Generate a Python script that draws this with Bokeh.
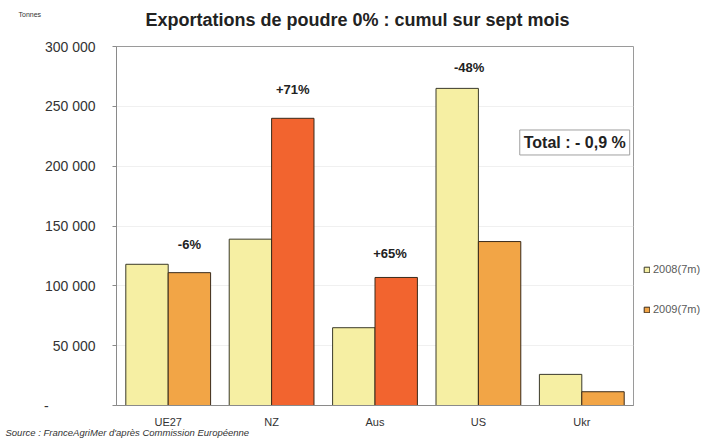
from bokeh.plotting import figure
from bokeh.models import (FactorRange, Range1d, FixedTicker, Label, Legend,
                          LegendItem, ColumnDataSource)
from bokeh.transform import dodge
from bokeh.embed import file_html
from bokeh.resources import INLINE
from bokeh.core.properties import value

# ---------------- data ----------------
categories = ["UE27", "NZ", "Aus", "US", "Ukr"]
exports_2008 = [118000, 139000, 65000, 265000, 26000]
exports_2009 = [111000, 240000, 107000, 137000, 11500]
series_names = ["2008(7m)", "2009(7m)"]
change_categories = ["UE27", "NZ", "Aus", "US"]
change_labels = ["-6%", "+71%", "+65%", "-48%"]
y_ticks = [0, 50000, 100000, 150000, 200000, 250000, 300000]
y_tick_labels = ["-\u2007\u2007\u2007\u2007\u2007\u2007", "50 000", "100 000", "150 000",
                 "200 000", "250 000", "300 000"]
title_text = "Exportations de poudre 0% : cumul sur sept mois"
unit_text = "Tonnes"
total_text = "Total : - 0,9 %"
source_text = "Source : FranceAgriMer d'apr\u00e8s Commission Europ\u00e9enne"

# ---------------- styles ----------------
FONT = "Liberation Sans"
color_2008 = "#F6EFA3"
orange = "#F2A546"
red_orange = "#F2642F"
colors_2009 = [orange, red_orange, red_orange, orange, orange]
label_dx = [0.205, 0.205, 0.145, -0.09]
label_dy = [-20, -29, -24, -21]

src = ColumnDataSource(dict(cat=categories, v08=exports_2008, v09=exports_2009,
                            c09=colors_2009))
lab_src = ColumnDataSource(dict(
    x=[categories.index(c) + 0.5 + dx for c, dx in zip(change_categories, label_dx)],
    y=[max(exports_2008[categories.index(c)], exports_2009[categories.index(c)])
       for c in change_categories],
    text=change_labels,
    dy=label_dy,
))

p = figure(frame_width=517, frame_height=359,
           x_range=FactorRange(factors=categories, range_padding=0),
           y_range=Range1d(0, 300000), output_backend="svg", toolbar_location=None,
           title=None, min_border_left=116, min_border_right=74, min_border_top=46,
           min_border_bottom=38)
p.background_fill_color = "white"
p.border_fill_color = "white"
p.outline_line_color = "#9a9a9a"
p.outline_line_width = 1

r08 = p.vbar(x=dodge("cat", -0.205, range=p.x_range), top="v08", width=0.41,
             source=src, fill_color=color_2008, line_color="#3a3a2a", line_width=1)
r09 = p.vbar(x=dodge("cat", 0.205, range=p.x_range), top="v09", width=0.41,
             source=src, fill_color="c09", line_color="#3a2a1a", line_width=1)

p.text(x="x", y="y", text="text", source=lab_src, y_offset="dy",
       text_align="center", text_baseline="middle", text_font=value(FONT),
       text_font_size="13px", text_font_style="bold", text_color="#222222")

# axes
p.yaxis.ticker = FixedTicker(ticks=y_ticks)
p.yaxis.major_label_overrides = {t: l for t, l in zip(y_ticks, y_tick_labels)}
p.yaxis.major_label_text_font = FONT
p.yaxis.major_label_text_font_size = "14px"
p.yaxis.major_label_text_color = "#333333"
p.yaxis.major_tick_out = 4
p.yaxis.major_tick_in = 0
p.yaxis.minor_tick_line_color = None
p.yaxis.major_label_standoff = 17
p.yaxis.axis_line_color = "#8a8a8a"
p.yaxis.major_tick_line_color = "#8a8a8a"

p.xaxis.major_label_text_font = FONT
p.xaxis.major_label_text_font_size = "11px"
p.xaxis.major_label_text_color = "#333333"
p.xaxis.major_tick_line_color = None
p.xaxis.major_label_standoff = 4
p.xaxis.axis_line_color = "#8a8a8a"

p.xgrid.grid_line_color = None
p.ygrid.grid_line_color = "#f0f0f0"

# legend (right side panel)
legend = Legend(items=[LegendItem(label=series_names[0], renderers=[r08]),
                       LegendItem(label=series_names[1], renderers=[r09])],
                location=(10, 90), orientation="vertical",
                label_text_font=FONT, label_text_font_size="11px",
                label_text_color="#5a5a5a", glyph_width=7, glyph_height=7,
                spacing=28, padding=0, margin=0, label_standoff=3,
                border_line_color=None, background_fill_alpha=0)
p.add_layout(legend, "right")

# texts outside the frame (stacked outward from the frame)
p.add_layout(Label(x=-98, y=32, x_units="screen", y_units="screen", text=unit_text,
                   text_font=FONT, text_font_size="7px", text_color="#333333",
                   text_baseline="middle"), "above")
p.add_layout(Label(x=29, y=20, x_units="screen", y_units="screen", text=title_text,
                   text_font=FONT, text_font_size="18px", text_font_style="bold",
                   text_color="#222222", text_baseline="middle"), "above")
p.add_layout(Label(x=-111, y=9, x_units="screen", y_units="screen", text=source_text,
                   text_font=FONT, text_font_size="9.5px", text_font_style="italic",
                   text_color="#333333", text_baseline="middle"), "below")
p.add_layout(Label(x=3.9, y=219800, text=total_text, text_font=FONT,
                   text_font_size="16px", text_font_style="bold", text_color="#222222",
                   text_baseline="middle", border_line_color="#a0a0a0",
                   background_fill_color="white", padding=4))

open("out.html", "w").write(file_html(p, INLINE))
